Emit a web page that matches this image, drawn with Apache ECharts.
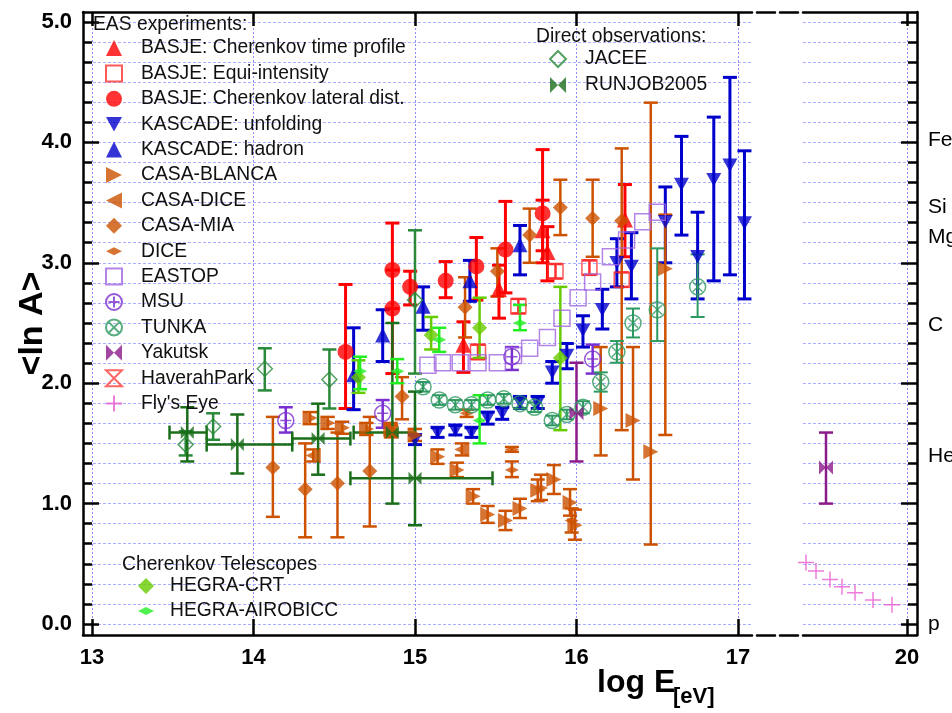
<!DOCTYPE html>
<html>
<head>
<meta charset="utf-8">
<script src="https://cdn.jsdelivr.net/npm/echarts@6/dist/echarts.min.js"></script>
<style>
  html, body { margin: 0; padding: 0; background: #fff; }
  #chart { width: 952px; height: 713px; }
</style>
</head>
<body>
<div id="chart"></div>
<script>
// ---- values: [logE, <lnA>, low, high] ----
const basjeTime = [
  [15.30, 2.32, 2.09, 2.51], [15.52, 2.78, 2.54, 2.98], [15.79, 3.27, 3.00, 3.52],
  [15.82, 3.09, 2.85, 3.30], [16.30, 3.36, 3.05, 3.65]
];
const basjeEqui = [
  [15.39, 2.26, 2.20, 2.32], [15.64, 2.64, 2.58, 2.70], [15.87, 2.93, 2.87, 2.99],
  [16.08, 2.96, 2.90, 3.02], [16.28, 2.86, 2.80, 2.92]
];
const basjeLateral = [
  [14.57, 2.26, 1.79, 2.82], [14.86, 2.94, 2.62, 3.33], [14.86, 2.62, 2.08, 2.94],
  [14.97, 2.80, 2.65, 2.93], [15.19, 2.85, 2.71, 3.01], [15.38, 2.97, 2.69, 3.21],
  [15.56, 3.11, 2.75, 3.51], [15.79, 3.41, 3.10, 3.94]
];
const kascadeUnfolding = [
  [15.00, 1.53, 1.49, 1.57], [15.14, 1.59, 1.55, 1.63], [15.25, 1.61, 1.57, 1.65],
  [15.35, 1.59, 1.55, 1.63], [15.45, 1.71, 1.66, 1.76], [15.54, 1.75, 1.70, 1.80],
  [15.65, 1.84, 1.79, 1.89], [15.76, 1.84, 1.79, 1.89], [15.85, 2.09, 2.00, 2.18],
  [15.94, 2.23, 2.12, 2.33], [16.04, 2.44, 2.30, 2.56], [16.16, 2.61, 2.45, 2.78],
  [16.25, 3.00, 2.80, 3.20], [16.34, 2.97, 2.70, 3.25], [16.55, 3.34, 3.00, 3.63],
  [16.65, 3.65, 3.23, 4.05], [16.75, 3.05, 2.70, 3.42], [16.85, 3.69, 2.85, 4.21],
  [16.95, 3.81, 2.90, 4.54], [17.04, 3.33, 2.70, 3.93]
];
const kascadeHadron = [
  [14.62, 2.07, 1.78, 2.46], [14.80, 2.40, 2.18, 2.61], [15.05, 2.64, 2.44, 2.80],
  [15.34, 2.85, 2.68, 3.02], [15.65, 3.15, 2.90, 3.31]
];
const casaBlanca = [
  [14.35, 1.71, 1.66, 1.76], [14.46, 1.67, 1.62, 1.72], [14.55, 1.63, 1.58, 1.68],
  [14.70, 1.62, 1.57, 1.67], [14.85, 1.62, 1.57, 1.67], [15.00, 1.57, 1.52, 1.62],
  [15.14, 1.39, 1.33, 1.45], [15.26, 1.28, 1.22, 1.34], [15.36, 1.06, 1.00, 1.12],
  [15.45, 0.91, 0.84, 0.98], [15.56, 0.86, 0.78, 0.94], [15.65, 0.96, 0.88, 1.04],
  [15.76, 1.11, 1.02, 1.20], [15.86, 1.20, 1.08, 1.32], [15.96, 1.01, 0.90, 1.12],
  [15.99, 0.82, 0.70, 0.95], [16.15, 1.79, 1.40, 2.30], [16.35, 1.69, 1.20, 2.30],
  [16.46, 1.43, 0.66, 4.33], [16.55, 2.95, 1.57, 3.40]
];
const casaDice = [
  [14.37, 1.40, 1.35, 1.45], [14.85, 1.60, 1.55, 1.65], [15.29, 1.45, 1.40, 1.50]
];
const casaMia = [
  [14.12, 1.30, 0.89, 1.72], [14.32, 1.12, 0.72, 1.50], [14.52, 1.17, 0.72, 1.59],
  [14.72, 1.27, 0.81, 1.72], [14.92, 1.89, 1.70, 2.05], [15.31, 2.63, 2.38, 2.88],
  [15.51, 2.93, 2.72, 3.12], [15.71, 3.23, 3.00, 3.45], [15.90, 3.46, 3.23, 3.69],
  [16.10, 3.37, 3.05, 3.69], [16.28, 3.35, 1.61, 3.95]
];
const dice = [
  [15.32, 1.75, 1.72, 1.78], [15.60, 1.45, 1.43, 1.47], [15.60, 1.28, 1.22, 1.35],
  [15.78, 1.13, 1.03, 1.24], [15.97, 0.86, 0.76, 0.96]
];
const eastop = [
  [15.08, 2.15], [15.17, 2.17], [15.28, 2.17], [15.39, 2.17], [15.51, 2.17],
  [15.61, 2.23], [15.71, 2.29], [15.82, 2.38], [15.91, 2.54], [16.01, 2.71],
  [16.10, 2.84], [16.21, 3.05], [16.31, 3.19], [16.41, 3.34], [16.50, 3.42]
];
const msu = [
  [14.20, 1.69, 1.59, 1.80], [14.80, 1.75, 1.63, 1.86], [15.60, 2.22, 2.11, 2.30],
  [16.10, 2.20, 2.08, 2.32]
];
const tunka = [
  [15.05, 1.97, 1.93, 2.01], [15.15, 1.86, 1.82, 1.90], [15.25, 1.82, 1.78, 1.86],
  [15.35, 1.82, 1.78, 1.86], [15.45, 1.86, 1.82, 1.90], [15.55, 1.87, 1.83, 1.91],
  [15.65, 1.83, 1.79, 1.87], [15.74, 1.80, 1.76, 1.84], [15.85, 1.69, 1.65, 1.73],
  [15.94, 1.74, 1.70, 1.78], [16.04, 1.80, 1.75, 1.85], [16.15, 2.01, 1.93, 2.09],
  [16.25, 2.26, 2.17, 2.35], [16.35, 2.50, 2.38, 2.62], [16.50, 2.61, 2.35, 3.12],
  [16.75, 2.80, 2.55, 3.07]
];
const yakutsk = [[16.00, 1.75, 1.35, 2.17]];
const yakutskHigh = [[17.975, 1.30, 1.00, 1.59]];
const haverahPark = [];
const flysEye = [
  [17.475, 0.51], [17.725, 0.44], [18.075, 0.37], [18.375, 0.31],
  [18.70, 0.26], [19.15, 0.20], [19.625, 0.16]
];
const jacee = [
  [13.58, 1.49, 1.40, 1.60], [13.75, 1.64, 1.53, 1.75], [14.07, 2.12, 1.94, 2.29],
  [14.47, 2.03, 1.79, 2.28], [15.00, 2.69, 2.08, 3.27]
];
// [logE, <lnA>, low, high, logE low, logE high]
const runjob = [
  [13.59, 1.59, 1.35, 1.80, 13.48, 13.71], [13.90, 1.49, 1.25, 1.74, 13.71, 14.24],
  [14.40, 1.54, 1.24, 1.83, 14.24, 14.60], [14.86, 1.59, 1.00, 2.50, 14.62, 15.00],
  [15.00, 1.21, 0.82, 1.93, 14.60, 15.48]
];
const hegraCrt = [
  [14.65, 2.05, 1.92, 2.19], [15.10, 2.40, 2.28, 2.55], [15.40, 2.46, 2.21, 2.71],
  [15.90, 2.21, 1.61, 2.80]
];
const hegraAirobicc = [
  [14.66, 2.10, 1.95, 2.22], [14.89, 2.10, 2.00, 2.20], [15.15, 2.36, 2.26, 2.46],
  [15.40, 1.69, 1.50, 1.90], [15.65, 2.50, 2.44, 2.65]
];

// ---- axes ----
const xTicksLeft = [13, 14, 15, 16, 17];
const xTicksRight = [20];
const yLabelValues = [0, 1, 2, 3, 4, 5];
const yMinorValues = Array.from({ length: 31 }, (_, i) => i / 6);
const elementNames = ['p', 'He', 'C', 'Mg', 'Si', 'Fe'];
const elementValues = [0.0, 1.39, 2.48, 3.21, 3.46, 4.02];

const Y_MIN = -0.0914, Y_MAX = 5.083;
const LX_MIN = 12.9443, LX_MAX = 17.0867;
const RX_MIN = 17.4, RX_MAX = 20.25;

const chart = echarts.init(document.getElementById('chart'));

const blackLine = { show: true, onZero: false, lineStyle: { color: '#000', width: 2.5 } };
const tickStyle = { color: '#000', width: 2.5 };
const vDots = { show: true, lineStyle: { color: '#8c8cff', type: [2, 2], width: 1 } };
const hDots = { show: true, lineStyle: { color: '#aab0ff', type: [3, 2], width: 1 } };
const tickFont = { fontSize: 22, fontWeight: 'bold', color: '#000' };

const sym = {
  down: 'path://M0,0 L10,0 L5,9 Z',
  right: 'path://M0,0 L10,5 L0,10 Z',
  left: 'path://M10,0 L0,5 L10,10 Z',
  flat: 'path://M0,4 L8,0 L16,4 L8,8 Z',
  bowtie: 'path://M0,0 L10,10 L10,0 L0,10 Z',
  hourglass: 'path://M0,0 L10,0 L0,10 L10,10 Z',
  plus: 'path://M0,5 L10,5 M5,0 L5,10',
  circlePlus: 'path://M10,0 A10,10 0 1 1 10,20 A10,10 0 1 1 10,0 Z M10,3 L10,17 M3,10 L17,10',
  circleX: 'path://M10,0 A10,10 0 1 1 10,20 A10,10 0 1 1 10,0 Z M4,4 L16,16 M16,4 L4,16'
};

function makeBars(color, lw, cap) {
  return function (params, api) {
    const x = api.value(0), y = api.value(1);
    const lo = api.value(2), hi = api.value(3);
    const style = { stroke: color, lineWidth: lw, fill: null };
    const kids = [];
    if (lo != null && !isNaN(lo)) {
      const a = api.coord([x, lo]), b = api.coord([x, hi]);
      kids.push({ type: 'line', shape: { x1: a[0], y1: a[1], x2: b[0], y2: b[1] }, style });
      kids.push({ type: 'line', shape: { x1: a[0] - cap, y1: a[1], x2: a[0] + cap, y2: a[1] }, style });
      kids.push({ type: 'line', shape: { x1: b[0] - cap, y1: b[1], x2: b[0] + cap, y2: b[1] }, style });
    }
    const xl = api.value(4), xh = api.value(5);
    if (xl != null && !isNaN(xl)) {
      const a = api.coord([xl, y]), b = api.coord([xh, y]);
      kids.push({ type: 'line', shape: { x1: a[0], y1: a[1], x2: b[0], y2: b[1] }, style });
      kids.push({ type: 'line', shape: { x1: a[0], y1: a[1] - cap, x2: a[0], y2: a[1] + cap }, style });
      kids.push({ type: 'line', shape: { x1: b[0], y1: b[1] - cap, x2: b[0], y2: b[1] + cap }, style });
    }
    return { type: 'group', children: kids };
  };
}

const series = [];
function addSet(name, data, o) {
  const xi = o.right ? 2 : 0, yi = o.right ? 1 : 0;
  if (data.length && data[0].length > 2) {
    series.push({
      type: 'custom', name: name + ' bars', xAxisIndex: xi, yAxisIndex: yi,
      clip: false, silent: true, data: data, encode: { x: 0, y: 1 },
      renderItem: makeBars(o.barColor || o.color, o.lw || 2.5, o.cap || 7)
    });
  }
  series.push({
    type: 'scatter', name: name, xAxisIndex: xi, yAxisIndex: yi, clip: false,
    symbol: o.symbol, symbolSize: o.size || 14, symbolKeepAspect: true,
    data: data.map(d => [d[0], d[1]]),
    itemStyle: o.hollow
      ? { color: 'rgba(0,0,0,0)', borderColor: o.color, borderWidth: o.bw || 1.5 }
      : { color: o.color }
  });
}

const red = '#ff0000', blue = '#0000cc', orange = '#cc5200';

addSet('BASJE: Cherenkov time profile', basjeTime, { color: red, symbol: 'triangle', size: 16, lw: 3 });
addSet('BASJE: Equi-intensity', basjeEqui, { color: '#ff3030', symbol: 'rect', size: 15, hollow: true });
addSet('BASJE: Cherenkov lateral dist.', basjeLateral, { color: red, symbol: 'circle', size: 16, lw: 3 });
addSet('KASCADE: unfolding', kascadeUnfolding, { color: blue, symbol: sym.down, size: 15, lw: 3 });
addSet('KASCADE: hadron', kascadeHadron, { color: blue, symbol: 'triangle', size: 15, lw: 3 });
addSet('CASA-BLANCA', casaBlanca, { color: orange, symbol: sym.right, size: 15 });
addSet('CASA-DICE', casaDice, { color: orange, symbol: sym.left, size: 15 });
addSet('CASA-MIA', casaMia, { color: orange, symbol: 'diamond', size: 15 });
addSet('DICE', dice, { color: orange, symbol: sym.flat, size: 14 });
addSet('EASTOP', eastop, { color: '#a066e0', symbol: 'rect', size: 16, hollow: true });
addSet('MSU', msu, { color: '#7a2fd0', symbol: sym.circlePlus, size: 16, hollow: true });
addSet('TUNKA', tunka, { color: '#2e9960', symbol: sym.circleX, size: 16, hollow: true, lw: 2 });
addSet('Yakutsk', yakutsk, { color: '#8b1a8b', symbol: sym.bowtie, size: 14 });
addSet('Yakutsk', yakutskHigh, { color: '#8b1a8b', symbol: sym.bowtie, size: 14, right: true });
addSet('HaverahPark', haverahPark, { color: '#ff4040', symbol: sym.hourglass, size: 15, hollow: true });
addSet("Fly's Eye", flysEye, { color: '#e85ad0', symbol: sym.plus, size: 16, hollow: true, right: true });
addSet('JACEE', jacee, { color: '#2a8a3a', symbol: 'diamond', size: 15, hollow: true, lw: 2.5 });
addSet('RUNJOB2005', runjob, { color: '#1a6e1a', symbol: sym.bowtie, size: 13, lw: 2.5 });
addSet('HEGRA-CRT', hegraCrt, { color: '#66cc00', symbol: 'diamond', size: 15 });
addSet('HEGRA-AIROBICC', hegraAirobicc, { color: '#22ee22', symbol: sym.flat, size: 14 });

const easNames = [
  'BASJE: Cherenkov time profile', 'BASJE: Equi-intensity', 'BASJE: Cherenkov lateral dist.',
  'KASCADE: unfolding', 'KASCADE: hadron', 'CASA-BLANCA', 'CASA-DICE', 'CASA-MIA', 'DICE',
  'EASTOP', 'MSU', 'TUNKA', 'Yakutsk', 'HaverahPark', "Fly's Eye"
];
const FS = 19.3;
const legendBase = {
  orient: 'vertical', itemWidth: 16, itemHeight: 16, itemGap: 5.4, padding: 0,
  selectedMode: false, textStyle: { fontSize: FS, lineHeight: 20, color: '#111', padding: [0, 0, 0, 14] }
};
const headStyle = { fontSize: FS, fontWeight: 'normal', color: '#111' };

const option = {
  animation: false,
  backgroundColor: '#fff',
  textStyle: { fontFamily: 'Liberation Sans' },
  title: [
    { text: 'EAS experiments:', left: 93, top: 15, padding: 0, textStyle: headStyle },
    { text: 'Direct observations:', left: 536, top: 27, padding: 0, textStyle: headStyle },
    { text: 'Cherenkov Telescopes', left: 122, top: 555, padding: 0, textStyle: headStyle },
    { text: 'log E', left: 597, top: 667, padding: 0, textStyle: { fontSize: 32, fontWeight: 'bold', color: '#000' } },
    { text: '[eV]', left: 673, top: 686, padding: 0, textStyle: { fontSize: 22, fontWeight: 'bold', color: '#000' } }
  ],
  legend: [
    Object.assign({}, legendBase, { data: easNames, left: 105, top: 38 }),
    Object.assign({}, legendBase, { data: ['JACEE', 'RUNJOB2005'], left: 549, top: 49, itemGap: 6 }),
    Object.assign({}, legendBase, { data: ['HEGRA-CRT', 'HEGRA-AIROBICC'], left: 138, top: 576, itemGap: 5,
      textStyle: { fontSize: FS, lineHeight: 20, color: '#111', padding: [0, 0, 0, 11] } })
  ],
  grid: [
    { left: 83, top: 12, width: 669, height: 623, outerBoundsMode: 'none', containLabel: false },
    { left: 803, top: 12, width: 114, height: 623, outerBoundsMode: 'none', containLabel: false },
    { left: 752, top: 12, width: 51, height: 623, outerBoundsMode: 'none', containLabel: false },
    { left: 83, top: 12, width: 669, height: 623, outerBoundsMode: 'none', containLabel: false },
    { left: 803, top: 12, width: 114, height: 623, outerBoundsMode: 'none', containLabel: false }
  ],
  xAxis: [
    { gridIndex: 0, type: 'value', min: LX_MIN, max: LX_MAX, position: 'bottom', axisLine: blackLine,
      axisTick: { customValues: xTicksLeft, inside: true, length: 16, lineStyle: tickStyle },
      axisLabel: Object.assign({ customValues: xTicksLeft, margin: 12 }, tickFont), splitLine: vDots },
    { gridIndex: 0, type: 'value', min: LX_MIN, max: LX_MAX, position: 'top', axisLine: blackLine,
      axisTick: { customValues: xTicksLeft, inside: true, length: 14, lineStyle: tickStyle },
      axisLabel: { show: false }, splitLine: { show: false } },
    { gridIndex: 1, type: 'value', min: RX_MIN, max: RX_MAX, position: 'bottom', axisLine: blackLine,
      axisTick: { customValues: xTicksRight, inside: true, length: 16, lineStyle: tickStyle },
      axisLabel: Object.assign({ customValues: xTicksRight, margin: 12 }, tickFont), splitLine: vDots },
    { gridIndex: 1, type: 'value', min: RX_MIN, max: RX_MAX, position: 'top', axisLine: blackLine,
      axisTick: { customValues: xTicksRight, inside: true, length: 14, lineStyle: tickStyle },
      axisLabel: { show: false }, splitLine: { show: false } },
    { gridIndex: 2, type: 'value', min: 0, max: 1, position: 'bottom',
      axisLine: { show: true, onZero: false, lineStyle: { color: '#000', width: 2.5, type: [18, 5], dashOffset: 18 } },
      axisTick: { show: false }, axisLabel: { show: false }, splitLine: { show: false } },
    { gridIndex: 2, type: 'value', min: 0, max: 1, position: 'top',
      axisLine: { show: true, onZero: false, lineStyle: { color: '#000', width: 2.5, type: [18, 5], dashOffset: 18 } },
      axisTick: { show: false }, axisLabel: { show: false }, splitLine: { show: false } },
    { gridIndex: 3, type: 'value', min: LX_MIN, max: LX_MAX, show: false },
    { gridIndex: 4, type: 'value', min: RX_MIN, max: RX_MAX, show: false }
  ],
  yAxis: [
    { gridIndex: 0, type: 'value', min: Y_MIN, max: Y_MAX, position: 'left', axisLine: blackLine,
      axisTick: { customValues: yMinorValues, inside: true, length: 9, lineStyle: tickStyle },
      axisLabel: Object.assign({ customValues: yLabelValues, margin: 11, formatter: v => v.toFixed(1) }, tickFont),
      splitLine: hDots,
      name: '<ln A>', nameLocation: 'middle', nameRotate: 90, nameGap: 33, nameMoveOverlap: false,
      nameTextStyle: { fontSize: 34, fontWeight: 'bold', color: '#000' } },
    { gridIndex: 1, type: 'value', min: Y_MIN, max: Y_MAX, position: 'right', axisLine: blackLine,
      axisTick: { customValues: yMinorValues, inside: true, length: 9, lineStyle: tickStyle },
      axisLabel: { customValues: elementValues, margin: 11, fontSize: 21, color: '#000',
        formatter: v => {
          let best = 0;
          elementValues.forEach((e, i) => { if (Math.abs(e - v) < Math.abs(elementValues[best] - v)) best = i; });
          return elementNames[best];
        } },
      splitLine: hDots },
    { gridIndex: 2, type: 'value', min: Y_MIN, max: Y_MAX, show: false },
    { gridIndex: 3, type: 'value', min: Y_MIN, max: Y_MAX, position: 'left',
      axisLine: { show: false }, axisLabel: { show: false }, splitLine: { show: false },
      axisTick: { customValues: yLabelValues, inside: true, length: 16, lineStyle: tickStyle } },
    { gridIndex: 4, type: 'value', min: Y_MIN, max: Y_MAX, position: 'right',
      axisLine: { show: false }, axisLabel: { show: false }, splitLine: { show: false },
      axisTick: { customValues: yLabelValues, inside: true, length: 16, lineStyle: tickStyle } }
  ],
  series: series
};

chart.setOption(option);
</script>
</body>
</html>
